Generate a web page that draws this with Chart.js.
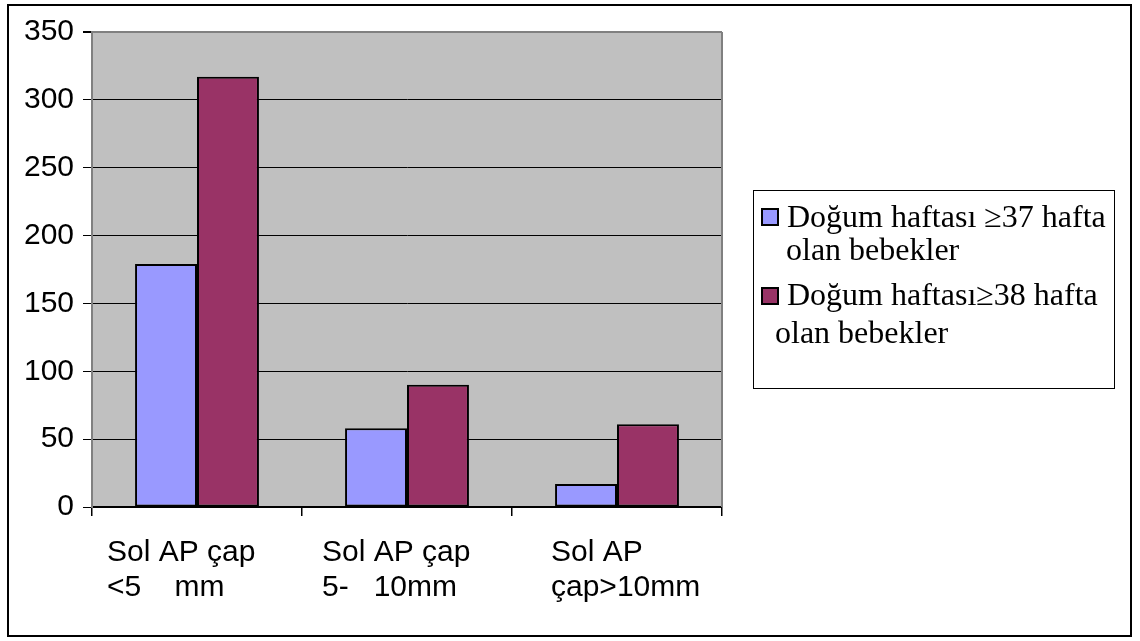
<!DOCTYPE html>
<html>
<head>
<meta charset="utf-8">
<script src="https://cdn.jsdelivr.net/npm/chart.js@4"></script>
<style>
  body { margin: 0; background: #fff; }
  canvas { display: block; }
</style>
</head>
<body>
<canvas id="chart" width="1140" height="641"></canvas>
<script>
// values
const categories = [['Sol AP çap', '<5    mm'], ['Sol AP çap', '5-   10mm'], ['Sol AP', 'çap>10mm']];
const seriesNames = [['Doğum haftası ≥37 hafta', 'olan bebekler'], ['Doğum haftası≥38 hafta', 'olan bebekler']];
const week37 = [179, 58, 17];
const week38 = [317, 90, 61];
const yMin = 0, yMax = 350, yStep = 50;

const colors = ['#9999FF', '#993366'];
const sansFont = "'Liberation Sans', Arial, sans-serif";
const serifFont = "'Liberation Serif', 'Times New Roman', serif";

// gray plot background, borders, legend box and category labels
const excelLook = {
  id: 'excelLook',
  beforeDraw(chart) {
    const ctx = chart.ctx, a = chart.chartArea;
    ctx.save();
    ctx.fillStyle = '#fff';
    ctx.fillRect(0, 0, chart.width, chart.height);
    ctx.fillStyle = '#C0C0C0';
    ctx.fillRect(a.left, a.top, a.right - a.left, a.bottom - a.top);
    ctx.restore();
  },
  afterDraw(chart) {
    const ctx = chart.ctx, a = chart.chartArea;
    ctx.save();
    // plot area right edge
    ctx.strokeStyle = '#808080';
    ctx.lineWidth = 2;
    ctx.beginPath();
    ctx.moveTo(a.right, a.top);
    ctx.lineTo(a.right, a.bottom);
    ctx.stroke();

    // outer frame
    ctx.strokeStyle = '#000';
    ctx.lineWidth = 2;
    ctx.strokeRect(8, 5, 1123, 631);

    // category labels, left-aligned lines as in the original
    const xs = chart.scales.x;
    const shift = [-90, -85, -66];
    ctx.fillStyle = '#000';
    ctx.font = '30px ' + sansFont;
    ctx.textAlign = 'left';
    ctx.textBaseline = 'alphabetic';
    categories.forEach((lines, i) => {
      const x = xs.getPixelForValue(i) + shift[i];
      lines.forEach((t, j) => ctx.fillText(t, x, 561 + j * 35));
    });

    // legend
    ctx.fillStyle = '#fff';
    ctx.fillRect(753, 190, 361, 198);
    ctx.strokeStyle = '#000';
    ctx.lineWidth = 1;
    ctx.strokeRect(753.5, 190.5, 361, 198);
    ctx.font = '32px ' + serifFont;
    const rows = [
      { box: 209, lines: [[787, 227], [786, 260]] },
      { box: 288, lines: [[787, 305], [775, 343]] }
    ];
    rows.forEach((r, i) => {
      ctx.fillStyle = colors[i];
      ctx.fillRect(762, r.box, 16, 16);
      ctx.lineWidth = 2;
      ctx.strokeRect(762, r.box, 16, 16);
      ctx.fillStyle = '#000';
      seriesNames[i].forEach((t, j) => ctx.fillText(t, r.lines[j][0], r.lines[j][1]));
    });
    ctx.restore();
  }
};

const ctx = document.getElementById('chart').getContext('2d');
const chart = new Chart(ctx, {
  type: 'bar',
  data: {
    labels: categories,
    datasets: [
      {
        label: seriesNames[0].join(' '),
        data: week37,
        backgroundColor: colors[0],
        borderColor: '#000',
        borderWidth: 2,
        borderSkipped: false
      },
      {
        label: seriesNames[1].join(' '),
        data: week38,
        backgroundColor: colors[1],
        borderColor: '#000',
        borderWidth: 2,
        borderSkipped: false
      }
    ]
  },
  options: {
    responsive: false,
    animation: false,
    categoryPercentage: 0.59,
    barPercentage: 1.0,
    layout: {
      padding: { top: 32, right: 418, left: 0, bottom: 0 }
    },
    plugins: {
      legend: { display: false },
      tooltip: { enabled: false }
    },
    scales: {
      x: {
        afterFit(scale) { scale.height = 134; },
        grid: {
          offset: true,
          drawOnChartArea: false,
          drawTicks: true,
          tickLength: 9,
          tickColor: '#000',
          lineWidth: 1.5
        },
        border: { display: true, color: '#000', width: 2 },
        ticks: { display: false }
      },
      y: {
        min: yMin,
        max: yMax,
        afterFit(scale) { scale.width = 92; },
        ticks: {
          stepSize: yStep,
          color: '#000',
          padding: 9,
          font: { family: sansFont, size: 30 }
        },
        grid: {
          color: c => (c.tick && c.tick.value === yMax) ? '#808080' : '#000',
          lineWidth: c => (c.tick && c.tick.value === yMax) ? 2 : 1,
          tickColor: '#000',
          tickLength: 9
        },
        border: { display: true, color: '#808080', width: 2 }
      }
    }
  },
  plugins: [excelLook]
});
</script>
</body>
</html>
